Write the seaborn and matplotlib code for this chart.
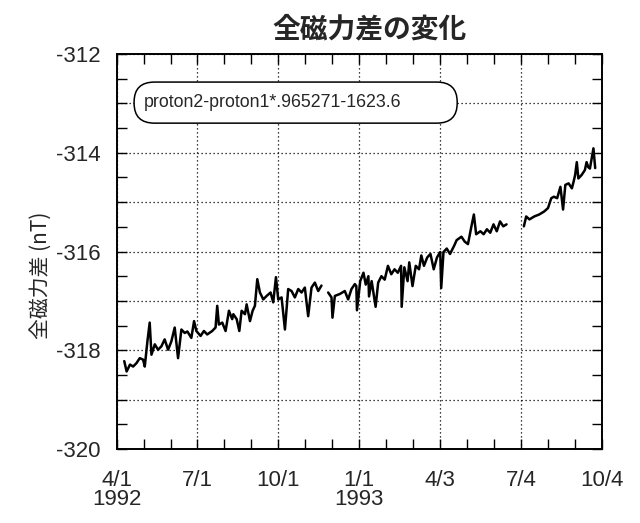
#!/usr/bin/env python3
"""
Total-field difference between two proton magnetometers, Apr 1992 - Oct 1993.
"""
import numpy as np
import pandas as pd
import matplotlib
matplotlib.use('Agg')
import matplotlib.pyplot as plt
import matplotlib.dates as mdates
from matplotlib.ticker import MultipleLocator, FuncFormatter, FixedLocator
from matplotlib.patches import FancyBboxPatch
import seaborn as sns

START = pd.Timestamp('1992-04-01')

# days since 1992-04-01 and difference (nT).
# three runs, the record has gaps in late Nov 1992 and late Jun 1993
days_a = [8.1, 10.8, 14.6, 18.2, 22, 25.7, 29.5, 31.4, 34.4, 37, 39, 42.8,
          46.5, 50.3, 54, 57.9, 61.6, 65.4, 69.2, 73, 76.8, 79.8, 84.3, 87.4,
          90, 94.8, 98.6, 102.3, 108, 111.8, 113.7, 115.6, 119.4, 123.2, 127,
          130.7, 132, 135.8, 138.8, 141.4, 145.2, 147.1, 150.9, 153.9, 156.5,
          159.2, 162.2, 166, 169.8, 174.3, 177.3, 180.4, 183, 186.8, 190.6,
          194.3, 198.1, 201.9, 205.7, 209.5, 213.2, 217, 220.8, 224.6, 228.4,
          232.1]
vals_a = [-318.22, -318.43, -318.29, -318.33, -318.26, -318.16, -318.19, -318.33,
          -317.82, -317.44, -318.09, -317.88, -317.99, -317.92, -317.78, -317.99,
          -317.82, -317.54, -318.16, -317.58, -317.65, -317.62, -317.75, -317.41,
          -317.61, -317.71, -317.61, -317.68, -317.61, -317.54, -317.10, -317.48,
          -317.44, -317.61, -317.20, -317.37, -317.27, -317.37, -317.61, -317.20,
          -317.27, -317.07, -317.41, -317.20, -317.10, -316.56, -316.83, -316.97,
          -316.90, -316.83, -317.03, -316.52, -316.97, -316.93, -317.58, -316.76,
          -316.80, -316.93, -316.76, -316.83, -316.73, -317.31, -316.73, -316.63,
          -316.80, -316.69]

days_b = [239.7, 243.5, 244.6, 247.3, 253, 258.6, 262.4, 266.2, 270, 271.7,
          272.4, 276.1, 279.8, 282.4, 285.4, 286.1, 289.1, 293.6, 296.5, 300.2,
          303.9, 307.6, 311.4, 315.1, 318.8, 322.5, 323.2, 326.2, 329.9, 331.8,
          335.5, 339.2, 342.9, 345.5, 348.5, 352.2, 355.9, 359.6, 363.3, 367,
          368.1, 370.7, 374.4, 378.1, 382.9, 385.6, 391.1, 394.8, 398.5, 402.3,
          405.2, 407.8, 412.6, 416.3, 420, 423.8, 427.5, 431.2, 434.9, 438.6,
          442.3]
vals_b = [-316.83, -316.93, -317.34, -316.90, -316.86, -316.80, -316.97, -316.76,
          -316.66, -316.70, -317.19, -316.60, -316.43, -316.67, -316.50, -316.91,
          -316.60, -317.12, -316.63, -316.50, -316.57, -316.29, -316.46, -316.36,
          -316.43, -316.29, -317.12, -316.32, -316.60, -316.22, -316.70, -316.29,
          -316.36, -316.08, -316.29, -316.12, -316.05, -316.36, -316.12, -316.01,
          -316.74, -316.01, -315.94, -316.05, -315.88, -315.77, -315.70, -315.80,
          -315.85, -315.50, -315.25, -315.65, -315.59, -315.65, -315.55, -315.62,
          -315.45, -315.59, -315.39, -315.49, -315.45]

days_c = [462, 464.6, 468.3, 473.8, 479.4, 485, 489.4, 493.1, 496.1, 499.8,
          503.5, 506.5, 509.1, 512.8, 516.5, 518.4, 520.2, 522.1, 523.9, 527.6,
          531.3, 533.2, 535.1, 537, 541, 543]
vals_c = [-315.49, -315.29, -315.35, -315.29, -315.25, -315.19, -315.12, -314.92,
          -314.89, -314.92, -314.69, -315.15, -314.65, -314.62, -314.72, -314.59,
          -314.45, -314.19, -314.52, -314.45, -314.35, -314.19, -314.29, -314.32,
          -313.91, -314.31]

tick_dates = ['1992-04-01', '1992-07-01', '1992-10-01', '1993-01-01',
              '1993-04-03', '1993-07-04', '1993-10-04']
tick_labels = ['4/1\n1992', '7/1', '10/1', '1/1\n1993', '4/3', '7/4', '10/4']

title = '全磁力差の変化'
ylabel = '全磁力差 (nT)'
formula = 'proton2-proton1*.965271-1623.6'


def build_frame():
    runs = [(days_a, vals_a), (days_b, vals_b), (days_c, vals_c)]
    parts = []
    for i, (d, v) in enumerate(runs):
        parts.append(pd.DataFrame({
            'date': START + pd.to_timedelta(d, unit='D'),
            'dT': v,
            'run': i,
        }))
    return pd.concat(parts, ignore_index=True)


def main():
    sns.set_style('ticks')
    plt.rcParams['font.family'] = ['Liberation Sans', 'Noto Sans CJK JP', 'DejaVu Sans']
    cjk = ['Noto Sans CJK JP', 'Liberation Sans', 'DejaVu Sans']

    df = build_frame()

    fig = plt.figure(figsize=(6.4, 5.23), dpi=100)
    ax = fig.add_axes([0.183, 0.1415, 0.758, 0.7552])

    sns.lineplot(data=df, x='date', y='dT', units='run', estimator=None,
                 color='black', linewidth=1.8, ax=ax, legend=False)

    # axes limits and ticks
    majors = mdates.date2num(pd.to_datetime(tick_dates))
    minors = []
    for a, b in zip(majors[:-1], majors[1:]):
        minors += [a + (b - a) / 3, a + 2 * (b - a) / 3]
    ax.set_xlim(majors[0], majors[-1])
    ax.xaxis.set_major_locator(FixedLocator(majors))
    ax.xaxis.set_minor_locator(FixedLocator(minors))
    ax.set_xticklabels(tick_labels)

    ax.set_ylim(-320, -312)
    ax.yaxis.set_major_locator(MultipleLocator(1))
    ax.yaxis.set_minor_locator(MultipleLocator(0.5))
    ax.yaxis.set_major_formatter(
        FuncFormatter(lambda v, p: f'{v:.0f}' if round(v) % 2 == 0 else ''))

    ax.tick_params(which='both', direction='in', length=7, width=1,
                   top=True, right=True, color='black')
    ax.tick_params(axis='x', which='major', pad=15, labelsize=16)
    ax.tick_params(axis='y', which='major', pad=12, labelsize=16)
    for lbl in ax.get_xticklabels():
        lbl.set_linespacing(0.9)

    ax.grid(True, which='major', color='black', linestyle=(0, (1, 2.2)),
            linewidth=0.9)
    for s in ax.spines.values():
        s.set_linewidth(1.4)
        s.set_color('black')

    ax.set_xlabel('')
    ax.set_ylabel(ylabel, fontsize=15, family=cjk)
    ax.yaxis.set_label_coords(-0.135, 0.44)

    fig.text(0.578, 0.943, title, ha='center', va='center', fontsize=20,
             fontweight='bold', family=cjk)

    # rounded formula box
    box = FancyBboxPatch((0.035, 0.825), 0.666, 0.104,
                         boxstyle='round,pad=0,rounding_size=0.042',
                         mutation_aspect=1.2, transform=ax.transAxes,
                         facecolor='white', edgecolor='black', linewidth=1.1,
                         zorder=5)
    ax.add_patch(box)
    ax.text(0.054, 0.877, formula, transform=ax.transAxes, ha='left',
            va='center', fontsize=12.8, zorder=6)

    fig.savefig('out.png', dpi=100)
    plt.close(fig)


if __name__ == '__main__':
    main()
